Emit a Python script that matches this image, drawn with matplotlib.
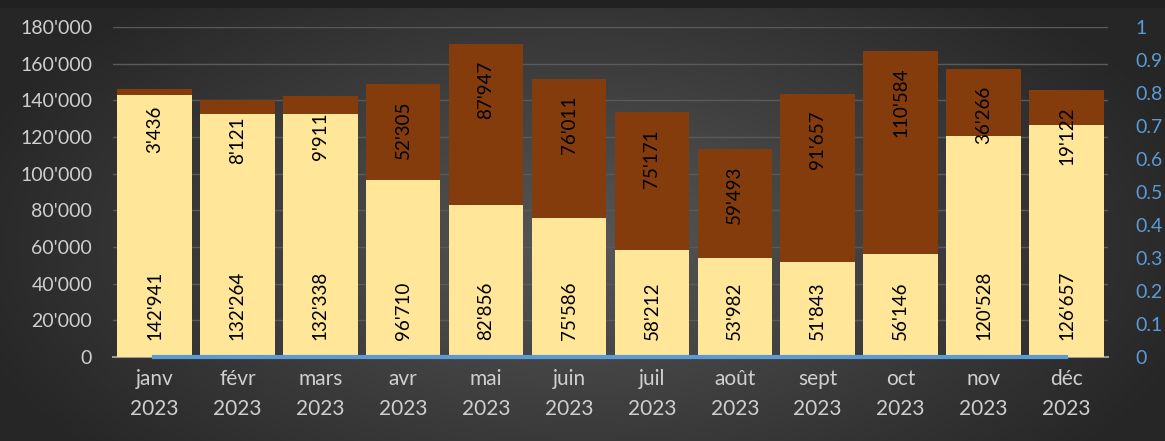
import numpy as np
import matplotlib
matplotlib.use("Agg")
import matplotlib.pyplot as plt
from matplotlib.ticker import FuncFormatter

# -----------------------------
# DATA
# -----------------------------

months = ["janv", "févr", "mars", "avr", "mai", "juin",
          "juil", "août", "sept", "oct", "nov", "déc"]
year = "2023"

bottom_values = [142941, 132264, 132338, 96710, 82856, 75586,
                 58212, 53982, 51843, 56146, 120528, 126657]
top_values = [3436, 8121, 9911, 52305, 87947, 76011,
              75171, 59493, 91657, 110584, 36266, 19122]
line_values = [0] * 12

# -----------------------------
# STYLE
# -----------------------------

plt.rcParams["font.family"] = ["Lato", "DejaVu Sans"]

yellow = "#ffe699"
brown = "#843c0c"
blue = "#5b9bd5"
tick_grey = "#cfcfcf"


def apos(v, pos=None):
    return f"{int(v):,}".replace(",", "'")


fig = plt.figure(figsize=(11.65, 4.41), dpi=100)

# radial gradient background
bg = fig.add_axes([0, 0, 1, 1], zorder=-10)
h, w = 441, 1165
yy, xx = np.mgrid[0:h, 0:w]
r = np.sqrt(((xx - w * 0.5) / (w * 0.55)) ** 2 + ((yy - h * 0.55) / (h * 0.75)) ** 2)
r = np.clip(r, 0, 1)
c = 0.34 - 0.19 * r
img = np.dstack([c, c, c])
img[:8, :, :] = 0.13
bg.imshow(img, aspect="auto", extent=[0, 1, 0, 1], origin="upper")
bg.axis("off")

ax = fig.add_axes([0.097, 0.1905, 0.854, 0.7485])
ax.set_facecolor("none")

x = np.arange(len(months))
ax.bar(x, bottom_values, width=0.9, color=yellow, zorder=3)
ax.bar(x, top_values, width=0.9, bottom=bottom_values, color=brown, zorder=3)

for i in range(len(months)):
    ax.annotate(apos(bottom_values[i]), (x[i], 0), xytext=(0, 12),
                textcoords="offset points", rotation=90, ha="center",
                va="bottom", fontsize=13.5, color="black", zorder=5)
    total = bottom_values[i] + top_values[i]
    ax.annotate(apos(top_values[i]), (x[i], total), xytext=(0, -12),
                textcoords="offset points", rotation=90, ha="center",
                va="top", fontsize=13.5, color="black", zorder=5)

ax.set_xlim(-0.5, len(months) - 0.5)
ax.set_ylim(0, 180000)
ax.set_yticks(range(0, 180001, 20000))
ax.yaxis.set_major_formatter(FuncFormatter(apos))
ax.grid(axis="y", color="#5a5a5a", linewidth=1, zorder=0)
ax.set_xticks(x)
ax.set_xticklabels([m + "\n" + year for m in months], linespacing=1.6)
ax.tick_params(axis="x", length=0, pad=9, labelsize=15, colors=tick_grey)
ax.tick_params(axis="y", length=0, pad=15, labelsize=14, colors=tick_grey)
for s in ["top", "right", "left"]:
    ax.spines[s].set_visible(False)
ax.spines["bottom"].set_color("#9a9a9a")
ax.spines["bottom"].set_linewidth(1.5)

ax2 = ax.twinx()
ax2.plot(x, line_values, color=blue, linewidth=3, zorder=6, clip_on=False)
ax2.set_ylim(0, 1)
ax2.set_yticks(np.arange(0, 1.01, 0.1))
ax2.yaxis.set_major_formatter(FuncFormatter(lambda v, p: f"{v:.1f}".rstrip("0").rstrip(".") if v else "0"))
ax2.tick_params(axis="y", length=0, pad=20, labelsize=14, colors=blue)
for s in ["top", "right", "left", "bottom"]:
    ax2.spines[s].set_visible(False)

plt.savefig("out.png", dpi=100)
